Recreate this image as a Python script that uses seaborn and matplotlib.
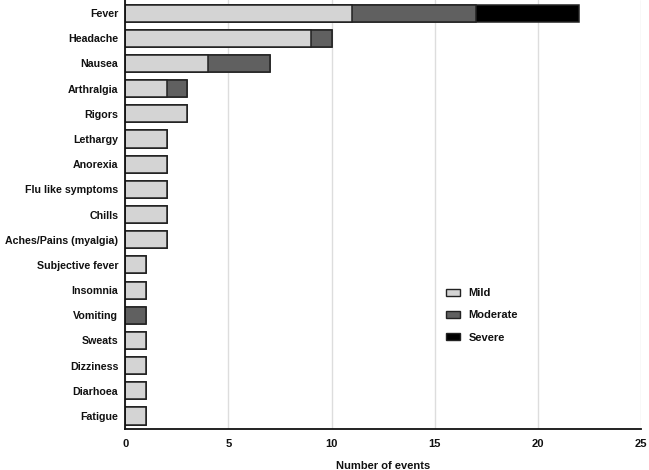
import numpy as np
import pandas as pd
import matplotlib
matplotlib.use("Agg")
import matplotlib.pyplot as plt
import seaborn as sns
from matplotlib.patches import Patch

# data
symptoms = ["Fever", "Headache", "Nausea", "Arthralgia", "Rigors", "Lethargy",
            "Anorexia", "Flu like symptoms", "Chills", "Aches/Pains (myalgia)",
            "Subjective fever", "Insomnia", "Vomiting", "Sweats", "Dizziness",
            "Diarhoea", "Fatigue"]
mild = [11, 9, 4, 2, 3, 2, 2, 2, 2, 2, 1, 1, 0, 1, 1, 1, 1]
moderate = [6, 1, 3, 1, 0, 0, 0, 0, 0, 0, 0, 0, 1, 0, 0, 0, 0]
severe = [5, 0, 0, 0, 0, 0, 0, 0, 0, 0, 0, 0, 0, 0, 0, 0, 0]

levels = ["Mild", "Moderate", "Severe"]
colors = {"Mild": "#d4d4d4", "Moderate": "#606060", "Severe": "#000000"}

df = pd.DataFrame({"Symptom": symptoms, "Mild": mild,
                   "Moderate": moderate, "Severe": severe})
df["c_mild"] = df["Mild"]
df["c_mod"] = df["Mild"] + df["Moderate"]
df["c_sev"] = df["c_mod"] + df["Severe"]

sns.set_style("white")
plt.rcParams["font.family"] = ["Liberation Sans", "DejaVu Sans"]
plt.rcParams["font.weight"] = "bold"
plt.rcParams["text.color"] = "#111111"
plt.rcParams["xtick.labelcolor"] = "#111111"
plt.rcParams["ytick.labelcolor"] = "#111111"
plt.rcParams["axes.labelcolor"] = "#111111"

fs = 8
fig = plt.figure(figsize=(6.49, 4.70), dpi=100)
ax = fig.add_axes([0.193, 0.087, 0.795, 0.913])

# stacked: draw totals first, then overlay the smaller cumulative sums
for col, lev in [("c_sev", "Severe"), ("c_mod", "Moderate"), ("c_mild", "Mild")]:
    sub = df[df[col] > 0]
    sns.barplot(data=sub, x=col, y="Symptom", order=symptoms, orient="h",
                color=colors[lev], edgecolor="#222222", linewidth=1.1,
                width=0.68, saturation=1, ax=ax)

ax.set_xlim(0, 25)
ax.set_ylim(16.52, -0.52)
ax.set_xticks([0, 5, 10, 15, 20, 25])
ax.xaxis.grid(True, color="#dddddd", linewidth=1)
ax.set_axisbelow(True)
for s in ["top", "right"]:
    ax.spines[s].set_visible(False)
for s in ["left", "bottom"]:
    ax.spines[s].set_color("#111111")
    ax.spines[s].set_linewidth(1.3)
ax.tick_params(axis="x", direction="out", length=4, width=1.2, color="#111111",
               labelsize=fs, pad=3)
ax.tick_params(axis="y", length=0, labelsize=7.7, pad=5)
for lab in ax.get_xticklabels() + ax.get_yticklabels():
    lab.set_fontweight("bold")
ax.set_ylabel("")
ax.set_xlabel("Number of events", fontsize=fs, fontweight="bold", labelpad=9)

handles = [Patch(facecolor=colors[l], edgecolor="#222222", linewidth=1, label=l)
           for l in levels]
ax.legend(handles=handles, loc="center left", bbox_to_anchor=(0.603, 0.265),
          frameon=False, handlelength=1.2, handleheight=0.6,
          labelspacing=1.1, prop={"weight": "bold", "size": fs})

fig.savefig("out.png", dpi=100)
